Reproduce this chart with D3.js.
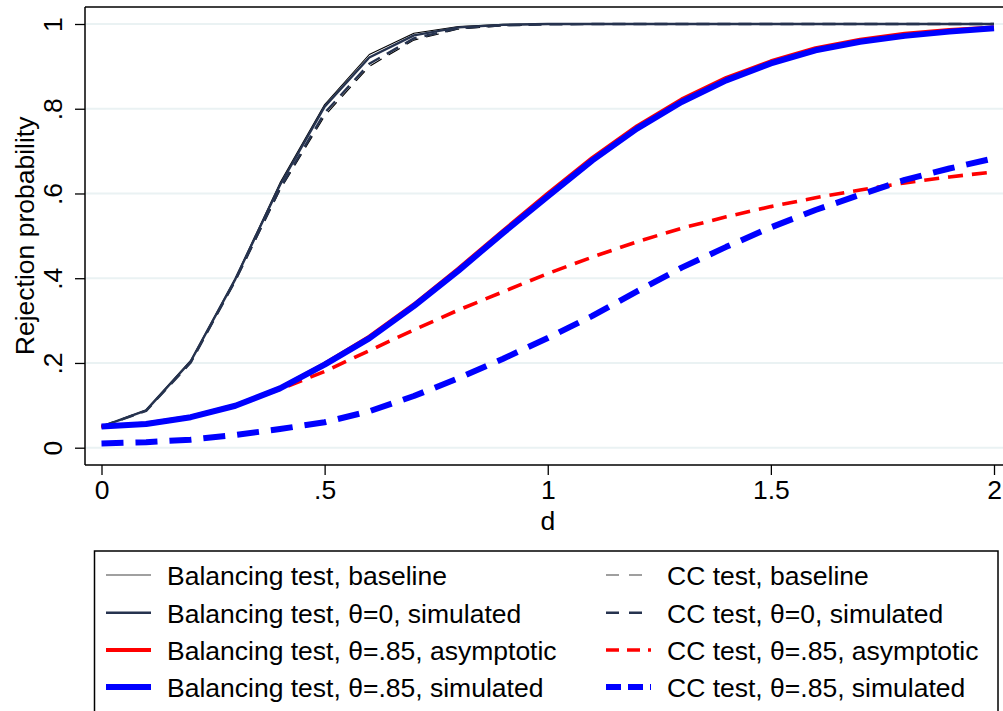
<!DOCTYPE html>
<html>
<head>
<meta charset="utf-8">
<script src="https://cdn.jsdelivr.net/npm/d3@7"></script>
<style>
  html, body { margin: 0; padding: 0; background: #fff; }
  svg { display: block; font-family: "Liberation Sans", Arial, Helvetica, sans-serif; }
</style>
</head>
<body>
<svg id="chart" width="1003" height="711"></svg>
<script>
// ---- data ----
const dValues = [0, 0.1, 0.2, 0.3, 0.4, 0.5, 0.6, 0.7, 0.8, 0.9, 1.0, 1.1, 1.2, 1.3, 1.4, 1.5, 1.6, 1.7, 1.8, 1.9, 2.0];
const balBaseline = [0.05, 0.089, 0.206, 0.400, 0.625, 0.810, 0.928, 0.978, 0.994, 0.999, 1, 1, 1, 1, 1, 1, 1, 1, 1, 1, 1];
const balSim0     = [0.05, 0.088, 0.204, 0.398, 0.620, 0.805, 0.921, 0.973, 0.992, 0.998, 1, 1, 1, 1, 1, 1, 1, 1, 1, 1, 1];
const ccBaseline  = [0.05, 0.087, 0.200, 0.393, 0.608, 0.783, 0.900, 0.962, 0.988, 0.996, 0.999, 1, 1, 1, 1, 1, 1, 1, 1, 1, 1];
const ccSim0      = [0.05, 0.087, 0.201, 0.395, 0.612, 0.790, 0.906, 0.966, 0.990, 0.997, 0.999, 1, 1, 1, 1, 1, 1, 1, 1, 1, 1];
const balAsym85   = [0.05, 0.057, 0.073, 0.100, 0.141, 0.198, 0.262, 0.338, 0.423, 0.512, 0.600, 0.684, 0.759, 0.822, 0.873, 0.912, 0.943, 0.963, 0.977, 0.986, 0.992];
const balSim85    = [0.05, 0.056, 0.072, 0.099, 0.140, 0.196, 0.258, 0.334, 0.418, 0.507, 0.593, 0.678, 0.753, 0.816, 0.867, 0.907, 0.938, 0.958, 0.972, 0.982, 0.990];
const ccAsym85    = [0.05, 0.057, 0.073, 0.100, 0.138, 0.180, 0.229, 0.278, 0.325, 0.368, 0.411, 0.450, 0.486, 0.518, 0.545, 0.569, 0.590, 0.608, 0.625, 0.639, 0.651];
const ccSim85     = [0.010, 0.013, 0.019, 0.030, 0.044, 0.060, 0.086, 0.122, 0.164, 0.210, 0.259, 0.311, 0.369, 0.425, 0.474, 0.520, 0.561, 0.597, 0.632, 0.659, 0.683];

const xTicks = [0, 0.5, 1, 1.5, 2];
const xTickLabels = ["0", ".5", "1", "1.5", "2"];
const yTicks = [0, 0.2, 0.4, 0.6, 0.8, 1];
const yTickLabels = ["0", ".2", ".4", ".6", ".8", "1"];
const xTitle = "d";
const yTitle = "Rejection probability";

const seriesNames = [
  "Balancing test, baseline",
  "Balancing test, θ=0, simulated",
  "Balancing test, θ=.85, asymptotic",
  "Balancing test, θ=.85, simulated",
  "CC test, baseline",
  "CC test, θ=0, simulated",
  "CC test, θ=.85, asymptotic",
  "CC test, θ=.85, simulated"
];
const seriesValues = [balBaseline, balSim0, balAsym85, balSim85, ccBaseline, ccSim0, ccAsym85, ccSim85];

// ---- styles ----
const NAVY = "#26334f";
const styles = [
  { color: "#000", width: 1.1, dash: null, legDash: null },
  { color: NAVY, width: 2.4, dash: null, legDash: null },
  { color: "#ff0000", width: 4, dash: null, legDash: null },
  { color: "#0000ff", width: 6, dash: null, legDash: null },
  { color: "#000", width: 1.1, dash: "13,8", legDash: "13,10" },
  { color: NAVY, width: 2.4, dash: "13,8", legDash: "13,10" },
  { color: "#ff0000", width: 3.6, dash: "15,9", legDash: "13,8" },
  { color: "#0000ff", width: 6, dash: "22,12", legDash: "15,7" }
];
const drawOrder = [0, 4, 1, 5, 2, 6, 3, 7];

const svg = d3.select("#chart");
const FS = 26.5;

const x = d3.scaleLinear().domain([0, 2]).range([101.5, 994]);
const y = d3.scaleLinear().domain([0, 1]).range([447.7, 24]);

const plotLeft = 85, plotRight = 1006, plotTop = 7, plotBottom = 465;

// gridlines
svg.append("g").selectAll("line").data(yTicks).join("line")
  .attr("x1", plotLeft + 1).attr("x2", plotRight)
  .attr("y1", d => y(d)).attr("y2", d => y(d))
  .attr("stroke", "#eaf2f3").attr("stroke-width", 2);

// plot region border (top)
svg.append("line").attr("x1", plotLeft).attr("x2", plotRight)
  .attr("y1", plotTop).attr("y2", plotTop).attr("stroke", "#000").attr("stroke-width", 1.5);

// lines
const line = d3.line().x((d, i) => x(dValues[i])).y(d => y(d));
const lg = svg.append("g");
drawOrder.forEach(k => {
  const s = styles[k];
  lg.append("path").datum(seriesValues[k])
    .attr("d", line)
    .attr("fill", "none")
    .attr("stroke", s.color)
    .attr("stroke-width", s.width)
    .attr("stroke-linejoin", "round")
    .attr("stroke-dasharray", s.dash);
});

// axes
const xAxis = d3.axisBottom(x).tickValues(xTicks).tickFormat((d, i) => xTickLabels[i]).tickSize(10).tickSizeOuter(0);
const xg = svg.append("g").attr("transform", `translate(0,${plotBottom})`).call(xAxis);
xg.select(".domain").remove();
xg.append("line").attr("x1", plotLeft).attr("x2", plotRight).attr("y1", 0).attr("y2", 0)
  .attr("stroke", "#000").attr("stroke-width", 1.5);
xg.selectAll(".tick line").attr("stroke", "#000").attr("stroke-width", 1.3);
xg.selectAll(".tick text").attr("font-size", FS).attr("fill", "#000")
  .attr("font-family", "Liberation Sans, Arial, sans-serif")
  .attr("dy", null).attr("y", 34);

const yAxis = d3.axisLeft(y).tickValues(yTicks).tickFormat((d, i) => yTickLabels[i]).tickSize(10).tickSizeOuter(0);
const yg = svg.append("g").attr("transform", `translate(${plotLeft},0)`).call(yAxis);
yg.select(".domain").remove();
yg.append("line").attr("x1", 0).attr("x2", 0).attr("y1", plotTop).attr("y2", plotBottom)
  .attr("stroke", "#000").attr("stroke-width", 1.5);
yg.selectAll(".tick line").attr("stroke", "#000").attr("stroke-width", 1.3);
yg.selectAll(".tick text").attr("font-size", FS).attr("fill", "#000")
  .attr("font-family", "Liberation Sans, Arial, sans-serif")
  .attr("x", null).attr("dy", null)
  .attr("text-anchor", "middle")
  .attr("transform", "translate(-23,0) rotate(-90)");

// titles
svg.append("text").attr("x", (x(0) + x(2)) / 2).attr("y", 530)
  .attr("text-anchor", "middle").attr("font-size", FS).text(xTitle);
svg.append("text").attr("transform", `translate(34,${(y(0) + y(1)) / 2 + 0}) rotate(-90)`)
  .attr("text-anchor", "middle").attr("font-size", FS).text(yTitle);

// legend
const leg = svg.append("g");
leg.append("rect").attr("x", 94.5).attr("y", 551).attr("width", 903.5).attr("height", 200)
  .attr("fill", "#fff").attr("stroke", "#000").attr("stroke-width", 1.5);
const rowY = [575, 612.7, 650, 687];
const colX = [106, 606];
seriesNames.forEach((name, k) => {
  const col = k < 4 ? 0 : 1, row = k % 4;
  const s = styles[k];
  const ly = rowY[row];
  leg.append("line").attr("x1", colX[col]).attr("x2", colX[col] + 45)
    .attr("y1", ly).attr("y2", ly)
    .attr("stroke", k === 0 || k === 4 ? "#808080" : s.color)
    .attr("stroke-width", k === 0 || k === 4 ? 1.5 : s.width)
    .attr("stroke-dasharray", s.legDash);
  leg.append("text").attr("x", colX[col] + 61).attr("y", ly + 10)
    .attr("font-size", FS).attr("fill", "#000").text(name);
});
</script>
</body>
</html>
